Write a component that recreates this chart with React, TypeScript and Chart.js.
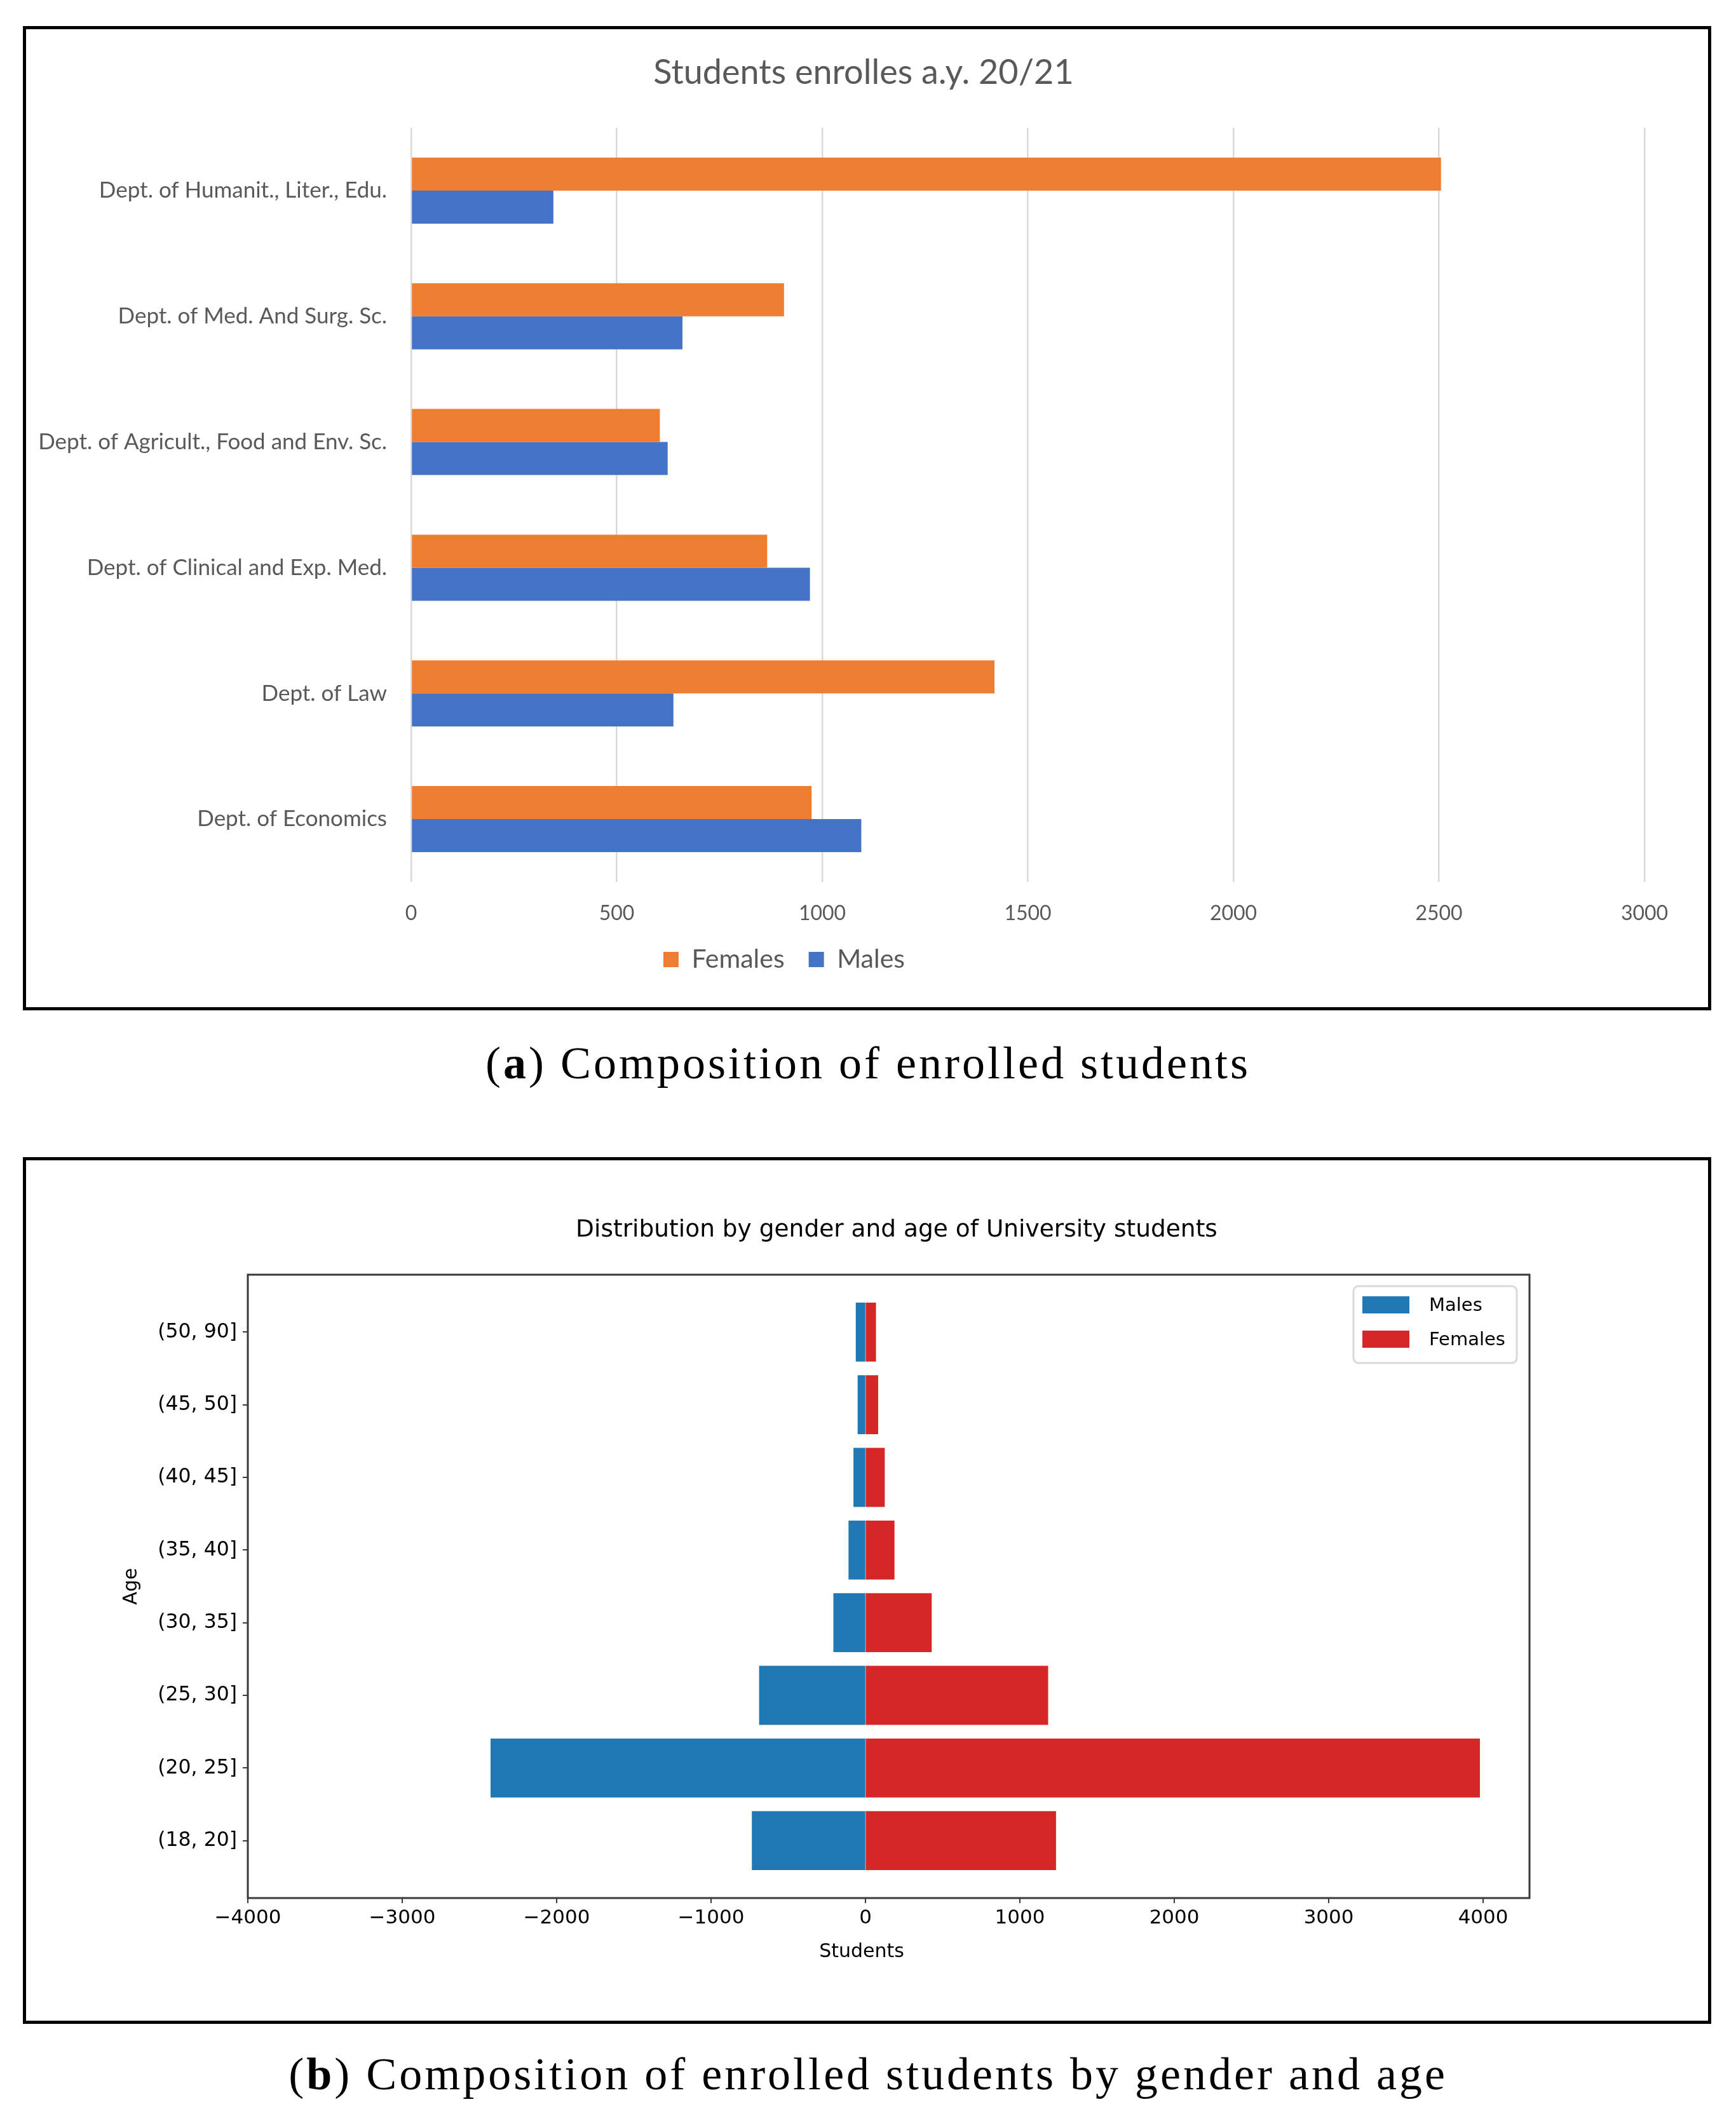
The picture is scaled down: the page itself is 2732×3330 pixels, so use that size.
import React, { useEffect, useRef } from "react";
import { Chart, registerables } from "chart.js";

Chart.register(...registerables);

// ---------- Data: panel (a) ----------
const departments = [
  "Dept. of Humanit., Liter., Edu.",
  "Dept. of Med. And Surg. Sc.",
  "Dept. of Agricult., Food and Env. Sc.",
  "Dept. of Clinical and Exp. Med.",
  "Dept. of Law",
  "Dept. of Economics",
];
const femalesByDept = [2505, 907, 605, 866, 1419, 974];
const malesByDept = [346, 660, 624, 970, 638, 1095];
const deptTicks = [0, 500, 1000, 1500, 2000, 2500, 3000];

// ---------- Data: panel (b) ----------
const ageGroups = [
  "(50, 90]",
  "(45, 50]",
  "(40, 45]",
  "(35, 40]",
  "(30, 35]",
  "(25, 30]",
  "(20, 25]",
  "(18, 20]",
];
const malesByAge = [-60, -48, -75, -107, -205, -686, -2425, -733];
const femalesByAge = [65, 79, 122, 185, 426, 1180, 3976, 1231];
const ageTicks = [-4000, -3000, -2000, -1000, 0, 1000, 2000, 3000, 4000];
const xAxisTitle = "Students";

// ---------- Layout constants ----------
const TOP_W = 2647;
const TOP_H = 1539;
const BOT_W = 2647;
const BOT_H = 1354;
const EXCEL_GREY = "#595959";
const EXCEL_FONT = "Lato";
const MPL_FONT = "DejaVu Sans";
const AGE_MARGIN = 0.79;

// moves a layout box (title / legend) horizontally so that it is centred on `center`
const makeCenterPlugin = (id: string, centers: { title?: number; legend?: number }) => ({
  id,
  afterLayout(chart: any) {
    const apply = (box: any, c?: number) => {
      if (!box || c === undefined) return;
      const w = box.right - box.left;
      box.left = c - w / 2;
      box.right = c + w / 2;
    };
    apply(chart.titleBlock, centers.title);
    apply(chart.legend, centers.legend);
  },
});

const frameAndLegendPlugin = {
  id: "frameLegend",
  afterDatasetsDraw(chart: any) {
    const { ctx, chartArea } = chart;
    ctx.save();
    ctx.strokeStyle = "#3a3a3a";
    ctx.lineWidth = 3;
    ctx.strokeRect(chartArea.left, chartArea.top, chartArea.right - chartArea.left, chartArea.bottom - chartArea.top);
    ctx.restore();
  },
  afterDraw(chart: any) {
    const { ctx, chartArea } = chart;
    // x-axis title (matplotlib places it slightly left of the axes centre here)
    ctx.save();
    ctx.font = `30px "${MPL_FONT}"`;
    ctx.fillStyle = "#000";
    ctx.textAlign = "center";
    ctx.textBaseline = "middle";
    ctx.fillText(xAxisTitle, chartArea.left + 966, chartArea.bottom + 85);
    ctx.restore();

    // legend box in the upper right of the axes
    const bw = 257;
    const bh = 121;
    const bx = chartArea.right - 20 - bw;
    const by = chartArea.top + 18;
    ctx.save();
    ctx.beginPath();
    if (ctx.roundRect) ctx.roundRect(bx, by, bw, bh, 8);
    else ctx.rect(bx, by, bw, bh);
    ctx.fillStyle = "rgba(255,255,255,0.8)";
    ctx.fill();
    ctx.strokeStyle = "#d9d9d9";
    ctx.lineWidth = 3;
    ctx.stroke();
    ctx.font = `29px "${MPL_FONT}"`;
    ctx.textBaseline = "middle";
    ctx.textAlign = "left";
    chart.data.datasets.forEach((ds: any, i: number) => {
      const sy = by + 16 + i * 54;
      ctx.fillStyle = ds.backgroundColor;
      ctx.fillRect(bx + 14, sy, 74, 27);
      ctx.fillStyle = "#000";
      ctx.fillText(ds.label, bx + 119, sy + 15);
    });
    ctx.restore();
  },
};

const minusFmt = (v: number) => (v < 0 ? "\u2212" + Math.abs(v) : String(v));

export default function App() {
  const topRef = useRef<HTMLCanvasElement>(null);
  const botRef = useRef<HTMLCanvasElement>(null);

  useEffect(() => {
    const top = new Chart(topRef.current!, {
      type: "bar",
      data: {
        labels: departments,
        datasets: [
          {
            label: "Females",
            data: femalesByDept,
            backgroundColor: "#ED7D31",
            borderWidth: 0,
            categoryPercentage: 0.526,
            barPercentage: 1.0,
          },
          {
            label: "Males",
            data: malesByDept,
            backgroundColor: "#4472C4",
            borderWidth: 0,
            categoryPercentage: 0.526,
            barPercentage: 1.0,
          },
        ],
      },
      options: {
        animation: false,
        responsive: false,
        maintainAspectRatio: false,
        indexAxis: "y",
        layout: { padding: { left: 0, right: 100, top: 0, bottom: 44.5 } },
        plugins: {
          title: {
            display: true,
            text: "Students enrolles a.y. 20/21",
            color: EXCEL_GREY,
            font: { family: EXCEL_FONT, size: 54, weight: "normal" },
            padding: { top: 36.6, bottom: 53.6 },
          },
          legend: {
            display: true,
            position: "bottom",
            labels: {
              color: EXCEL_GREY,
              font: { family: EXCEL_FONT, size: 41 },
              boxWidth: 24,
              boxHeight: 24,
              padding: 38,
            },
          },
          tooltip: { enabled: false },
        },
        scales: {
          x: {
            type: "linear",
            position: "bottom",
            min: 0,
            max: 3000,
            afterBuildTicks: (s: any) => {
              s.ticks = deptTicks.map((v) => ({ value: v }));
            },
            ticks: {
              callback: (v: any) => String(v),
              color: EXCEL_GREY,
              font: { family: EXCEL_FONT, size: 32 },
              padding: 30,
            },
            grid: { color: "#D9D9D9", lineWidth: 2.5, drawTicks: false },
            border: { display: false },
            afterFit: (s: any) => {
              s.height = 63.5;
            },
          },
          y: {
            type: "category",
            ticks: {
              color: EXCEL_GREY,
              font: { family: EXCEL_FONT, size: 35 },
              padding: 38,
            },
            grid: { display: false, drawTicks: false },
            border: { display: false },
            afterFit: (s: any) => {
              s.width = 606;
            },
          },
        },
      },
      plugins: [makeCenterPlugin("centerTop", { title: 1318, legend: 1193 })],
    } as any);

    const bot = new Chart(botRef.current!, {
      type: "bar",
      data: {
        labels: ageGroups,
        datasets: [
          {
            label: "Males",
            data: malesByAge,
            backgroundColor: "#1f77b4",
            borderWidth: 0,
            inflateAmount: 0.7,
            categoryPercentage: 1.0,
            barPercentage: 0.8,
          },
          {
            label: "Females",
            data: femalesByAge,
            backgroundColor: "#d62728",
            borderWidth: 0,
            inflateAmount: 0.7,
            categoryPercentage: 1.0,
            barPercentage: 0.8,
          },
        ],
      },
      options: {
        animation: false,
        responsive: false,
        maintainAspectRatio: false,
        indexAxis: "y",
        layout: { padding: { left: 0, right: 281, top: 0, bottom: 73 } },
        plugins: {
          title: {
            display: true,
            fullSize: false,
            text: "Distribution by gender and age of University students",
            color: "#000",
            font: { family: MPL_FONT, size: 37.5, weight: "normal" },
            padding: { top: 87.5, bottom: 47.5 },
          },
          legend: { display: false },
          tooltip: { enabled: false },
        },
        scales: {
          x: {
            type: "linear",
            position: "bottom",
            min: -4000,
            max: 4300,
            bounds: "data",
            stacked: true,
            afterBuildTicks: (s: any) => {
              s.ticks = ageTicks.map((v) => ({ value: v }));
            },
            ticks: {
              callback: (v: any) => minusFmt(Number(v)),
              color: "#000",
              font: { family: MPL_FONT, size: 31 },
              padding: 5,
            },
            grid: { drawOnChartArea: false, drawTicks: true, tickLength: 8, color: "#3a3a3a", lineWidth: 2 },
            border: { display: false },
            afterFit: (s: any) => {
              s.height = 120;
            },
          },
          y: {
            type: "category",
            stacked: true,
            afterBuildTicks: (s: any) => {
              s._startValue = -AGE_MARGIN;
              s._valueRange = ageGroups.length - 1 + 2 * AGE_MARGIN;
            },
            ticks: {
              color: "#000",
              font: { family: MPL_FONT, size: 31.5 },
              padding: 9,
            },
            grid: { offset: false, drawOnChartArea: false, drawTicks: true, tickLength: 8, color: "#3a3a3a", lineWidth: 2 },
            border: { display: false },
            title: {
              display: true,
              text: "Age",
              color: "#000",
              font: { family: MPL_FONT, size: 30 },
              padding: { top: 148, bottom: 0 },
            },
            afterFit: (s: any) => {
              s.width = 349;
            },
          },
        },
      },
      plugins: [frameAndLegendPlugin, makeCenterPlugin("centerBot", { title: 1370 })],
    } as any);

    return () => {
      top.destroy();
      bot.destroy();
    };
  }, []);

  const panel: React.CSSProperties = {
    position: "absolute",
    left: 36,
    width: 2657,
    border: "5px solid #000",
    boxSizing: "border-box",
    background: "#fff",
  };
  const caption: React.CSSProperties = {
    position: "absolute",
    left: 0,
    width: 2732,
    textAlign: "center",
    fontFamily: '"Liberation Serif", serif',
    fontSize: 72,
    lineHeight: "72px",
    letterSpacing: 4,
    color: "#000",
    whiteSpace: "nowrap",
  };

  return (
    <div style={{ position: "absolute", left: 0, top: 0, width: 2732, height: 3330, background: "#fff", overflow: "hidden" }}>
      <div style={{ ...panel, top: 41, height: 1549 }}>
        <canvas ref={topRef} width={TOP_W} height={TOP_H} style={{ display: "block", width: TOP_W, height: TOP_H }} />
      </div>
      <div style={{ ...caption, top: 1637 }}>
        (<b>a</b>) Composition of enrolled students
      </div>
      <div style={{ ...panel, top: 1821, height: 1364 }}>
        <canvas ref={botRef} width={BOT_W} height={BOT_H} style={{ display: "block", width: BOT_W, height: BOT_H }} />
      </div>
      <div style={{ ...caption, top: 3228 }}>
        (<b>b</b>) Composition of enrolled students by gender and age
      </div>
    </div>
  );
}
